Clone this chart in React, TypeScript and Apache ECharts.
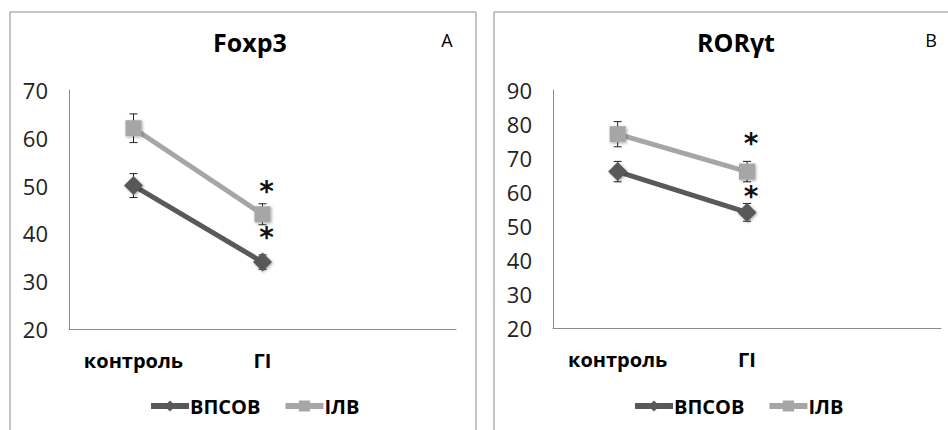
import React, { useEffect, useRef } from "react";
import * as echarts from "echarts";

const categories = ["контроль", "ГІ", ""];
const seriesNames = ["ВПСОВ", "ІЛВ"];

const foxp3Vpsov = [50, 34];
const foxp3VpsovErr = [2.5, 1.5];
const foxp3Ilv = [62, 44];
const foxp3IlvErr = [3, 2.2];

const rorVpsov = [66, 54];
const rorVpsovErr = [3, 2.6];
const rorIlv = [77, 66];
const rorIlvErr = [3.7, 3];

const sigMarks = ["", "*"];

const panelTitles = ["Foxp3", "RORγt"];
const panelLetters = ["A", "B"];

const DARK = "#595959";
const LIGHT = "#a6a6a6";
const FONT = "'Open Sans', 'DejaVu Sans', sans-serif";

function lineSeries(name: string, values: number[], gi: number, color: string, symbol: string, size: number, labelDist: number) {
  return {
    type: "line",
    name,
    xAxisIndex: gi,
    yAxisIndex: gi,
    z: 3,
    symbol,
    symbolSize: size,
    lineStyle: { color, width: 5 },
    itemStyle: { color, shadowBlur: 3, shadowColor: "rgba(0,0,0,0.35)", shadowOffsetX: 1, shadowOffsetY: 1 },
    data: values.map((v, i) => ({
      value: v,
      label: {
        show: sigMarks[i] !== "",
        formatter: sigMarks[i],
        position: "top",
        distance: labelDist,
        offset: [4, 0],
        fontSize: 28,
        lineHeight: 28,
        fontWeight: "bold",
        fontFamily: "'DejaVu Sans', sans-serif",
        color: "#111",
      },
    })),
  };
}

function errSeries(values: number[], errs: number[], gi: number) {
  return {
    type: "custom",
    xAxisIndex: gi,
    yAxisIndex: gi,
    z: 2,
    silent: true,
    data: values.map((v, i) => [i, v, errs[i]]),
    renderItem: (params: any, api: any) => {
      const x = api.value(0);
      const v = api.value(1);
      const e = api.value(2);
      const top = api.coord([x, v + e]);
      const bot = api.coord([x, v - e]);
      const style = { stroke: "#222", lineWidth: 1 };
      const cap = 4;
      return {
        type: "group",
        children: [
          { type: "line", shape: { x1: top[0], y1: top[1], x2: bot[0], y2: bot[1] }, style },
          { type: "line", shape: { x1: top[0] - cap, y1: top[1], x2: top[0] + cap, y2: top[1] }, style },
          { type: "line", shape: { x1: bot[0] - cap, y1: bot[1], x2: bot[0] + cap, y2: bot[1] }, style },
        ],
      };
    },
  };
}

export default function App() {
  const ref = useRef<HTMLDivElement>(null);
  useEffect(() => {
    if (!ref.current) return;
    const chart = echarts.init(ref.current, null, { renderer: "svg" });
    const axisLineStyle = { lineStyle: { color: "#8c8c8c", width: 1 } };
    const xAxisBase = {
      type: "category",
      data: categories,
      boundaryGap: true,
      axisLine: axisLineStyle,
      axisTick: { show: false },
      axisLabel: { fontFamily: FONT, fontWeight: "bold", fontSize: 20, color: "#000", margin: 21, interval: 0 },
      splitLine: { show: false },
    };
    const yAxisBase = {
      type: "value",
      interval: 10,
      axisLine: { show: true, ...axisLineStyle },
      axisTick: { show: false },
      splitLine: { show: false },
      axisLabel: { fontFamily: FONT, fontSize: 22, color: "#222", margin: 21 },
    };
    const legendBase = {
      data: seriesNames,
      itemWidth: 38,
      itemHeight: 14,
      itemGap: 22,
      lineStyle: { width: 6 },
      textStyle: { fontFamily: FONT, fontWeight: "bold", fontSize: 20, color: "#000", padding: [0, 0, 0, -4] },
    };
    chart.setOption({
      animation: false,
      backgroundColor: "#fff",
      grid: [
        { left: 69, top: 90, width: 387, height: 239 },
        { left: 553, top: 90, width: 388, height: 238 },
      ],
      xAxis: [{ ...xAxisBase, gridIndex: 0 }, { ...xAxisBase, gridIndex: 1 }],
      yAxis: [
        { ...yAxisBase, gridIndex: 0, min: 20, max: 70 },
        { ...yAxisBase, gridIndex: 1, min: 20, max: 90 },
      ],
      legend: [
        { ...legendBase, left: 143, top: 391 },
        { ...legendBase, left: 627, top: 391 },
      ],
      graphic: [
        { type: "rect", shape: { x: 10, y: 12, width: 466, height: 440 }, style: { fill: "none", stroke: "#8c8c8c", lineWidth: 1 }, silent: true },
        { type: "rect", shape: { x: 494, y: 12, width: 470, height: 440 }, style: { fill: "none", stroke: "#8c8c8c", lineWidth: 1 }, silent: true },
        { type: "text", x: 250, y: 42, style: { text: panelTitles[0], align: "center", verticalAlign: "middle", font: `bold 25px ${FONT}`, fill: "#000" } },
        { type: "text", x: 736, y: 42, style: { text: panelTitles[1], align: "center", verticalAlign: "middle", font: `bold 25px ${FONT}`, fill: "#000" } },
        { type: "text", x: 447, y: 40, style: { text: panelLetters[0], align: "center", verticalAlign: "middle", font: `18px ${FONT}`, fill: "#000" } },
        { type: "text", x: 931, y: 40, style: { text: panelLetters[1], align: "center", verticalAlign: "middle", font: `18px ${FONT}`, fill: "#000" } },
      ],
      series: [
        errSeries(foxp3Vpsov, foxp3VpsovErr, 0),
        errSeries(foxp3Ilv, foxp3IlvErr, 0),
        lineSeries(seriesNames[0], foxp3Vpsov, 0, DARK, "diamond", 19, 1),
        lineSeries(seriesNames[1], foxp3Ilv, 0, LIGHT, "rect", 16, 1),
        errSeries(rorVpsov, rorVpsovErr, 1),
        errSeries(rorIlv, rorIlvErr, 1),
        lineSeries(seriesNames[0], rorVpsov, 1, DARK, "diamond", 19, -8),
        lineSeries(seriesNames[1], rorIlv, 1, LIGHT, "rect", 16, 6),
      ],
    });
    return () => chart.dispose();
  }, []);
  return <div ref={ref} style={{ position: "fixed", left: 0, top: 0, width: 948, height: 430 }} />;
}
